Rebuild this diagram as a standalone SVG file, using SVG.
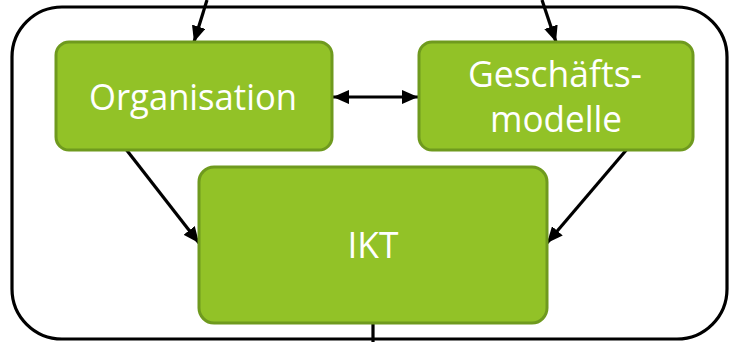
<svg xmlns="http://www.w3.org/2000/svg" width="730" height="342" viewBox="0 0 730 342">
<style>
.node rect{fill:#92c227;stroke:#6f9a1e;stroke-width:3}
.node text{fill:#fff;font-family:"Open Sans","Noto Sans",sans-serif;font-size:36px;text-anchor:middle}
.conn{stroke:#000;stroke-width:3.2;fill:none}
</style>
<defs>
<marker id="ah" viewBox="0 0 10 10" refX="10" refY="5" markerWidth="5" markerHeight="4.4" orient="auto-start-reverse" markerUnits="strokeWidth" preserveAspectRatio="none">
<path d="M0,0 L10,5 L0,10 z" fill="#000"/>
</marker>
</defs>
<rect id="frame" x="12" y="7" width="715" height="332" rx="50" ry="50" fill="none" stroke="#000" stroke-width="3.2"/>
<g id="connectors">
<line class="conn" x1="207" y1="0" x2="194" y2="42" marker-end="url(#ah)"/>
<line class="conn" x1="542" y1="0" x2="556" y2="42" marker-end="url(#ah)"/>
<line class="conn" x1="333" y1="97" x2="418" y2="97" marker-start="url(#ah)" marker-end="url(#ah)"/>
<line class="conn" x1="125" y1="148" x2="199" y2="243" marker-end="url(#ah)"/>
<line class="conn" x1="628" y1="148" x2="547" y2="243" marker-end="url(#ah)"/>
<line class="conn" x1="373" y1="323" x2="373" y2="342"/>
</g>
<g id="organisation" class="node">
<rect x="56" y="42" width="276" height="108" rx="13"/>
<text x="193" y="110" textLength="208" lengthAdjust="spacingAndGlyphs">Organisation</text>
</g>
<g id="geschaeftsmodelle" class="node">
<rect x="419" y="42" width="274" height="108" rx="13"/>
<text x="555" y="87" textLength="174" lengthAdjust="spacingAndGlyphs">Geschäfts-</text>
<text x="556" y="132" textLength="132" lengthAdjust="spacingAndGlyphs">modelle</text>
</g>
<g id="ikt" class="node">
<rect x="199" y="167" width="348" height="156" rx="15"/>
<text x="373" y="258" textLength="51" lengthAdjust="spacingAndGlyphs">IKT</text>
</g>
</svg>
